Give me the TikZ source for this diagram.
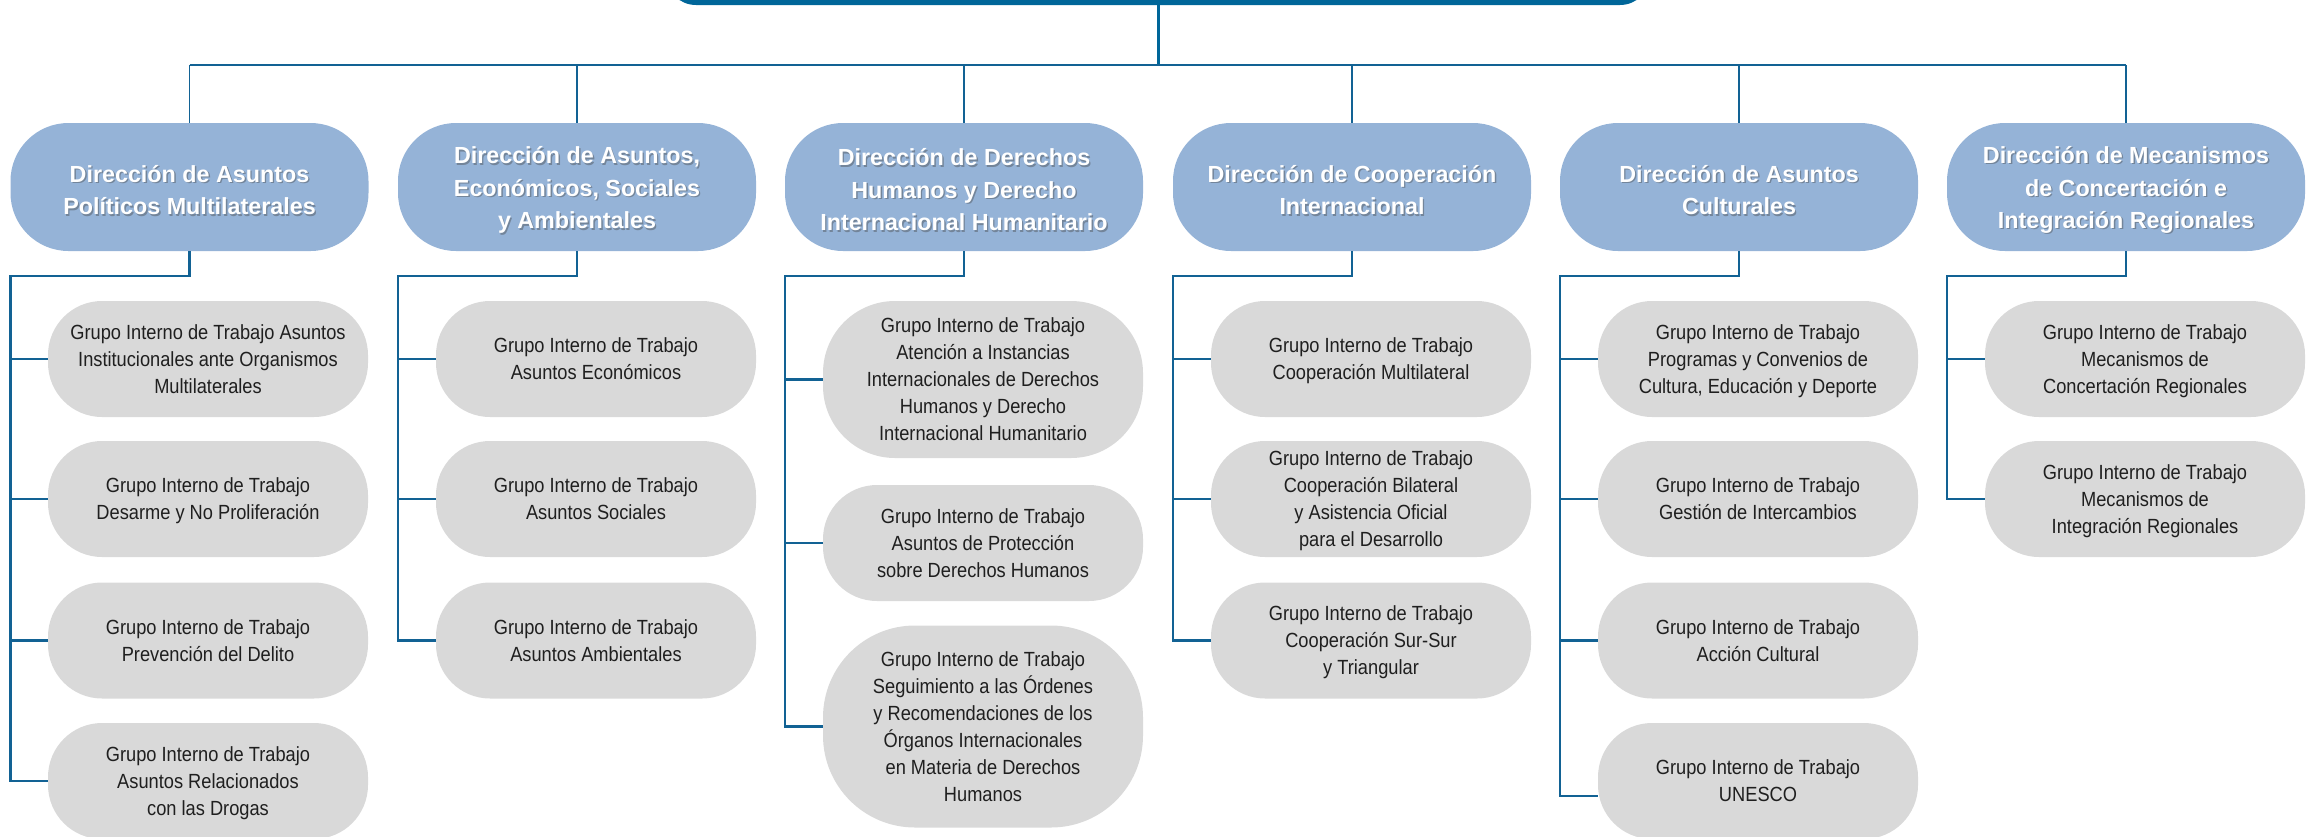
\documentclass[tikz,border=0pt]{standalone}
\usepackage{fontspec}
\setmainfont{Liberation Sans}
\newfontfamily\grupofont{Liberation Sans}[FakeStretch=0.89]
\definecolor{azuloscuro}{RGB}{0,102,153}
\definecolor{azuldir}{RGB}{149,179,215}
\definecolor{grisgrupo}{RGB}{217,217,217}
\definecolor{azullinea}{RGB}{18,98,148}
% caja de direccion con su texto sombreado
\newcommand\direccion[3]{%
    \node[dirbox] (#1) at (#2,187) {};
    \node[dirtexto,text=black!75,opacity=.4] (#1s) at ([shift={(1.4pt,-4.4pt)}]#1) {#3};
    \node[dirtexto] (#1t) at ([yshift=-3pt]#1) {#3};}

\begin{document}
\begin{tikzpicture}[x=1pt,y=-1pt,
    dirbox/.style={fill=azuldir,rounded corners=58pt,minimum width=358pt,minimum height=128pt,inner sep=0pt},
    dirtexto/.style={text=white,align=center,font=\bfseries\fontsize{23.3}{32.5}\selectfont},
    grupo/.style={fill=grisgrupo,rounded corners=54pt,minimum width=320pt,minimum height=116pt,align=center,text=black!88,font=\grupofont\fontsize{20.5}{27}\selectfont,text depth=0pt},
    rama/.style={draw=azullinea,line width=1.3pt},
    enlace/.style={draw=azullinea,line width=2.5pt}]
    \clip (0,0) rectangle (2315,836);
    \coordinate (barra) at (0,65);

    \node[fill=azuloscuro,rounded corners=30pt,minimum width=984pt,minimum height=80pt] (despacho) at (1158,-35) {};

    \direccion{d1}{189.5}{Dirección de Asuntos\\Políticos Multilaterales}
    \direccion{d2}{577}{Dirección de Asuntos,\\Económicos, Sociales\\y Ambientales}
    \direccion{d3}{964}{Dirección de Derechos\\Humanos y Derecho\\Internacional Humanitario}
    \direccion{d4}{1352}{Dirección de Cooperación\\Internacional}
    \direccion{d5}{1739}{Dirección de Asuntos\\Culturales}
    \direccion{d6}{2126}{Dirección de Mecanismos\\de Concertación e\\Integración Regionales}

    \draw[azuloscuro,line width=3pt] (despacho.south) -- (despacho.south |- barra);
    \draw[rama] (d1.north |- barra) -- (d6.north |- barra);
    \foreach \d in {d1,d2,d3,d4,d5,d6}
        \draw[rama] (\d.north |- barra) -- (\d.north);

    % grupos internos de trabajo
    \node[grupo] (g11) at (208,359) {Grupo Interno de Trabajo Asuntos\\Institucionales ante Organismos\\Multilaterales};
    \node[grupo] (g12) at (208,499) {Grupo Interno de Trabajo\\Desarme y No Proliferación};
    \node[grupo] (g13) at (208,640.5) {Grupo Interno de Trabajo\\Prevención del Delito};
    \node[grupo] (g14) at (208,781) {Grupo Interno de Trabajo\\Asuntos Relacionados\\con las Drogas};

    \node[grupo] (g21) at (596,359) {Grupo Interno de Trabajo\\Asuntos Económicos};
    \node[grupo] (g22) at (596,499) {Grupo Interno de Trabajo\\Asuntos Sociales};
    \node[grupo] (g23) at (596,640.5) {Grupo Interno de Trabajo\\Asuntos Ambientales};

    \node[grupo,minimum height=157pt,rounded corners=72pt] (g31) at (983,379.5) {Grupo Interno de Trabajo\\Atención a Instancias\\Internacionales de Derechos\\Humanos y Derecho\\Internacional Humanitario};
    \node[grupo] (g32) at (983,543) {Grupo Interno de Trabajo\\Asuntos de Protección\\sobre Derechos Humanos};
    \node[grupo,minimum height=202pt,rounded corners=92pt] (g33) at (983,726.5) {Grupo Interno de Trabajo\\Seguimiento a las Órdenes\\y Recomendaciones de los\\Órganos Internacionales\\en Materia de Derechos\\Humanos};

    \node[grupo] (g41) at (1371,359) {Grupo Interno de Trabajo\\Cooperación Multilateral};
    \node[grupo] (g42) at (1371,499) {Grupo Interno de Trabajo\\Cooperación Bilateral\\y Asistencia Oficial\\para el Desarrollo};
    \node[grupo] (g43) at (1371,640.5) {Grupo Interno de Trabajo\\Cooperación Sur-Sur\\y Triangular};

    \node[grupo] (g51) at (1758,359) {Grupo Interno de Trabajo\\Programas y Convenios de\\Cultura, Educación y Deporte};
    \node[grupo] (g52) at (1758,499) {Grupo Interno de Trabajo\\Gestión de Intercambios};
    \node[grupo] (g53) at (1758,640.5) {Grupo Interno de Trabajo\\Acción Cultural};
    \node[grupo] (g54) at (1758,781) {Grupo Interno de Trabajo\\UNESCO};

    \node[grupo] (g61) at (2145,359) {Grupo Interno de Trabajo\\Mecanismos de\\Concertación Regionales};
    \node[grupo] (g62) at (2145,499) {Grupo Interno de Trabajo\\Mecanismos de\\Integración Regionales};

    % enlaces direccion - grupos
    \coordinate (ramaunesco) at ([yshift=-15pt]g54.west);
    \draw[enlace] (d1.south) -- ++(0,25) -| (d1.west |- g14.west) -- (g14.west);
    \draw[enlace] (d2.south) -- ++(0,25) -| (d2.west |- g23.west) -- (g23.west);
    \draw[enlace] (d3.south) -- ++(0,25) -| (d3.west |- g33.west) -- (g33.west);
    \draw[enlace] (d4.south) -- ++(0,25) -| (d4.west |- g43.west) -- (g43.west);
    \draw[enlace] (d5.south) -- ++(0,25) -| (d5.west |- ramaunesco) -- (ramaunesco);
    \draw[enlace] (d6.south) -- ++(0,25) -| (d6.west |- g62.west) -- (g62.west);
    \foreach \g/\d in {g11/d1,g12/d1,g13/d1,g21/d2,g22/d2,g31/d3,g32/d3,g41/d4,g42/d4,g51/d5,g52/d5,g53/d5,g61/d6}
        \draw[enlace] (\d.west |- \g.west) -- (\g.west);
\end{tikzpicture}
\end{document}
